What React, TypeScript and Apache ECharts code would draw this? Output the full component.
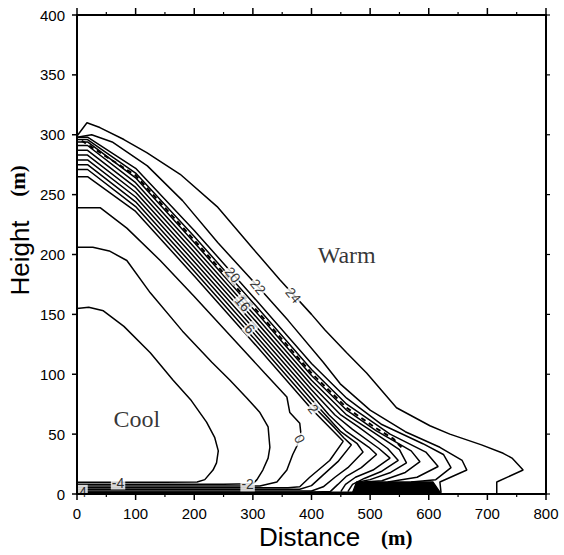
import React, { useEffect, useRef } from "react";
import * as echarts from "echarts";

// Axis ranges and tick values
const xRange = [0, 800];
const yRange = [0, 400];
const xMajorTicks = [0, 100, 200, 300, 400, 500, 600, 700, 800];
const xMinorTicks = [50, 150, 250, 350, 450, 550, 650, 750];
const yTicks = [0, 50, 100, 150, 200, 250, 300, 350, 400];

// Contour polylines [distance (m), height (m)]
const cM4 = [[0,155],[20,156],[45,153],[80,140],[125,118],[164,95],[195,78],[221,60],[235,47],[241,36],[238,26],[232,20],[218,12],[205,10],[150,9.8],[0,9.8]];
const cM2 = [[0,206],[27,206],[55,203],[85,195],[125,168],[180,136],[230,110],[261,95],[290,80],[312,68],[326,56],[329,39],[326,30],[317,20],[307,12],[300,8.5],[250,8.1],[0,8.1]];
const c0 = [[0,239],[40,239],[85,222],[142,195],[200,165],[260,133],[320,101],[358,81],[363,68],[380,59],[382,50],[375,40],[368,33],[358,20],[341,10],[312,6.7],[0,6.7]];
const c2 = [[0,265],[18,265],[100,236],[200,182],[300,127],[400,71],[454,44],[431,28],[397,14],[380,6],[360,5.3],[0,5.3]];
const c4 = [[0,271],[18,271],[100,240],[200,186],[300,131],[400,75],[440,55],[455,47],[468,41],[445,27],[420,16],[400,7],[380,3.9],[0,3.9]];
const c6 = [[0,275],[18,275],[100,244],[200,190],[300,135],[400,79],[450,52],[478,42],[488,35],[462,22],[440,14],[420,6],[400,2.5],[0,2.5]];
const c8 = [[0,279],[18,279],[100,248],[200,194],[300,139],[400,83],[430,66],[460,52],[498,39],[511,33],[485,22],[460,15],[445,8],[432,2],[380,1.3],[0,1.3]];
const c10 = [[0,283],[18,283],[100,252],[200,198],[300,143],[400,87],[440,66],[470,54],[515,38],[534,30],[505,20],[475,14],[458,8],[450,2]];
const c12 = [[0,287],[18,287],[100,256],[200,202],[300,147],[400,91],[450,66],[480,56],[530,38],[548,28],[520,19],[490,13],[470,8],[462,2]];
const c14 = [[0,291],[18,291],[100,260],[200,206],[300,151],[400,95],[460,66],[495,55],[550,37],[562,26],[535,18],[500,12],[480,10]];
const c16 = [[0,294],[18,294],[100,264],[200,210],[300,155],[400,99],[460,70],[510,53],[570,36],[585,27],[560,18],[520,11],[490,10]];
const c18 = [[0,296],[18,296],[100,268],[200,215],[300,160],[400,104],[460,75],[534,50],[595,35],[616,23],[580,14],[530,10]];
const c20 = [[0,298],[18,298],[100,272],[200,220],[300,165],[400,109],[460,80],[520,58],[590,42],[625,33],[638,22],[612,12],[570,10]];
const c22 = [[0,298],[25,300],[60,294],[120,274],[180,245],[240,210],[309,173],[360,145],[420,110],[449,92],[500,70],[560,52],[619,39],[657,28],[665,20],[619,10],[621,1]];
const c24 = [[0,299],[17,310],[39,306],[80,296],[119,285],[176,267],[239,240],[300,205],[346,179],[400,150],[423,137],[460,118],[494,101],[545,72],[602,57],[636,50],[690,41],[727,34],[742,30],[761,20],[716,10],[716,0]];
const dashedLine = [[8,295],[100,266],[200,212],[300,157],[400,101],[460,72],[510,55],[540,46],[555,38]];
const surfaceBlob = [[470,1],[477,10],[607,10],[620,1]];
const surfaceLine = [[0,1],[620,1]];

const contourLines = [cM4, cM2, c0, c2, c4, c6, c8, c10, c12, c14, c16, c18, c20, c22, c24];

// Contour labels: text, distance, height, angle
const labelTexts = ["24", "22", "20", "16", "6", "2", "0", "-2", "-4", "4"];
const labelX = [369, 309, 266, 283, 295, 403, 380, 291, 70, 10];
const labelY = [166, 173, 183, 159, 138, 71, 46, 8, 9.6, 1.8];
const labelAngle = [-50, -50, -50, -50, -50, -52, -62, 0, 0, 0];

// Region annotations
const regionTexts = ["Warm", "Cool"];
const regionX = [460, 102];
const regionY = [200, 63];

function tickSeries(values: number[], vertical: boolean, side: number, len: number, width: number) {
  return {
    type: "custom",
    silent: true,
    clip: false,
    z: 20,
    data: values.map((v) => (vertical ? [v, side === 1 ? yRange[1] : yRange[0]] : [side === 1 ? xRange[1] : xRange[0], v])),
    renderItem: (_p: any, api: any) => {
      const pt = api.coord([api.value(0), api.value(1)]);
      const dx = vertical ? 0 : side * len;
      const dy = vertical ? -side * len : 0;
      return {
        type: "line",
        shape: { x1: pt[0], y1: pt[1], x2: pt[0] + dx, y2: pt[1] + dy },
        style: { stroke: "#000", lineWidth: width },
      };
    },
  };
}

export default function App() {
  const ref = useRef<HTMLDivElement>(null);
  useEffect(() => {
    document.body.style.margin = "0";
    if (!ref.current) return;
    const chart = echarts.init(ref.current, null, { renderer: "svg" });
    const sans = "Liberation Sans";
    const serif = "Liberation Serif";
    const lineSeries = contourLines.map((pts) => ({
      type: "line",
      data: pts,
      symbol: "none",
      silent: true,
      z: 2,
      lineStyle: { color: "#000", width: 1.5 },
    }));
    const hiddenAxis = { show: false };
    chart.setOption({
      animation: false,
      backgroundColor: "#fff",
      textStyle: { fontFamily: sans },
      grid: { left: 77, right: 18, top: 15, bottom: 61 },
      xAxis: {
        type: "value", min: xRange[0], max: xRange[1], interval: 100,
        axisLine: { show: false, onZero: false },
        axisTick: hiddenAxis,
        axisLabel: { color: "#000", fontSize: 15, fontFamily: sans, margin: 12 },
        splitLine: hiddenAxis,
      },
      yAxis: {
        type: "value", min: yRange[0], max: yRange[1], interval: 50,
        axisLine: { show: false, onZero: false },
        axisTick: hiddenAxis,
        axisLabel: { color: "#000", fontSize: 15, fontFamily: sans, margin: 12 },
        splitLine: hiddenAxis,
      },
      graphic: [
        { type: "text", x: 259, y: 537, style: { text: "Distance", fontSize: 26, fontFamily: sans, fill: "#000", verticalAlign: "middle" } },
        { type: "text", x: 381, y: 538, style: { text: "(m)", fontSize: 21, fontWeight: "bold", fontFamily: serif, fill: "#000", verticalAlign: "middle" } },
        { type: "text", x: 20, y: 258, rotation: Math.PI / 2, style: { text: "Height", fontSize: 26, fontFamily: sans, fill: "#000", align: "center", verticalAlign: "middle" } },
        { type: "text", x: 18, y: 181, rotation: Math.PI / 2, style: { text: "(m)", fontSize: 21, fontWeight: "bold", fontFamily: serif, fill: "#000", align: "center", verticalAlign: "middle" } },
      ],
      series: [
        ...lineSeries,
        {
          type: "line", data: dashedLine, symbol: "none", silent: true, z: 2,
          lineStyle: { color: "#000", width: 2, type: [5, 4] },
        },
        {
          type: "line", data: surfaceBlob, symbol: "none", silent: true, z: 2,
          lineStyle: { color: "#000", width: 1.4 },
          areaStyle: { color: "#000", opacity: 1 },
        },
        {
          type: "line", data: surfaceLine, symbol: "none", silent: true, z: 2,
          lineStyle: { color: "#000", width: 2.5 },
        },
        // plot frame
        {
          type: "custom", silent: true, clip: false, z: 20,
          data: [[xRange[0], yRange[0]]],
          renderItem: (_p: any, api: any) => {
            const a = api.coord([xRange[0], yRange[1]]);
            const b = api.coord([xRange[1], yRange[0]]);
            return {
              type: "rect",
              shape: { x: a[0], y: a[1], width: b[0] - a[0], height: b[1] - a[1] },
              style: { fill: "none", stroke: "#000", lineWidth: 2 },
            };
          },
        },
        tickSeries(xMajorTicks, true, -1, 6, 1.5),
        tickSeries(xMinorTicks, true, -1, 3, 1.2),
        tickSeries(xMajorTicks, true, 1, 7, 1.5),
        tickSeries(xMinorTicks, true, 1, 3, 1.2),
        tickSeries(yTicks, false, -1, 5, 1.5),
        tickSeries(yTicks, false, 1, 4, 1.2),
        {
          type: "scatter", silent: true, z: 5, symbolSize: 1,
          itemStyle: { color: "rgba(0,0,0,0)" },
          label: { show: true, position: "inside", fontSize: 14, fontFamily: sans, color: "#000", backgroundColor: "#fff", padding: [0, 1] },
          data: labelTexts.map((t, i) => ({
            value: [labelX[i], labelY[i]],
            label: { formatter: t, rotate: labelAngle[i] },
          })),
        },
        {
          type: "scatter", silent: true, z: 5, symbolSize: 1,
          itemStyle: { color: "rgba(0,0,0,0)" },
          label: { show: true, position: "inside", fontSize: 24, fontFamily: serif, color: "#000" },
          data: regionTexts.map((t, i) => ({ value: [regionX[i], regionY[i]], label: { formatter: t } })),
        },
      ],
    });
    return () => chart.dispose();
  }, []);
  return <div ref={ref} style={{ width: 564, height: 555 }} />;
}
